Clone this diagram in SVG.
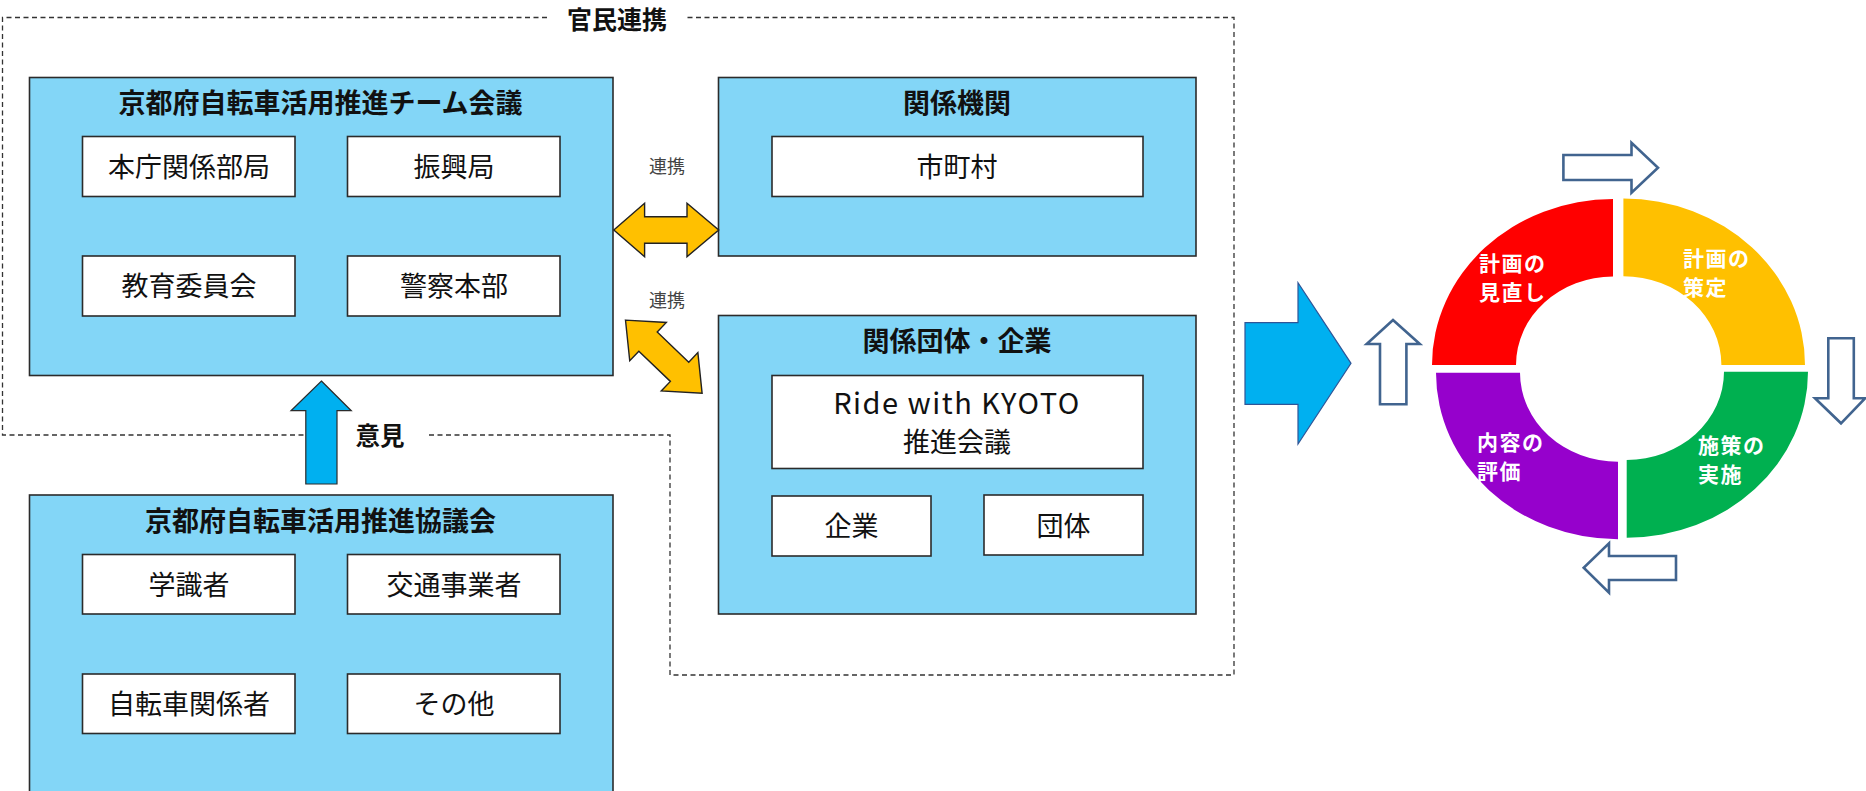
<svg xmlns="http://www.w3.org/2000/svg" width="1866" height="791" viewBox="0 0 1866 791">
<style>
text{font-family:"Noto Sans CJK JP","Noto Sans",sans-serif;fill:#111}
.panel{fill:#83D6F7;stroke:#2b2b2b;stroke-width:1.6}
.item{fill:#fff;stroke:#2b2b2b;stroke-width:1.6}
.title{font-size:27px;font-weight:bold;text-anchor:middle}
.lbl{font-size:27px;text-anchor:middle}
.dash{fill:none;stroke:#333;stroke-width:1.3;stroke-dasharray:5,3.5}
.yarrow{fill:#FFC000;stroke:#222;stroke-width:1.4}
.barrow{fill:#00B0F0;stroke:#2b2b2b;stroke-width:1.2}
.harrow{fill:#fff;stroke:#41648F;stroke-width:2.6}
.ring{font-size:21px;font-weight:bold;fill:#fff;letter-spacing:1.5px}
.small{font-size:18px;fill:#444;text-anchor:middle}
</style>

<g id="frame">
<path class="dash" d="M547,17.5 H2.5 V435 H306"/>
<path class="dash" d="M429,435 H670 V675 H1234 V17.5 H685"/>
<text x="617" y="29" style="font-size:25px;font-weight:bold;text-anchor:middle">官民連携</text>
</g>

<g id="team">
<rect class="panel" x="29.5" y="77.5" width="583.5" height="298"/>
<text class="title" x="320.5" y="113">京都府自転車活用推進チーム会議</text>
<rect class="item" x="82.5" y="136.5" width="212.5" height="60"/>
<text class="lbl" x="189" y="177">本庁関係部局</text>
<rect class="item" x="347.5" y="136.5" width="212.5" height="60"/>
<text class="lbl" x="454" y="177">振興局</text>
<rect class="item" x="82.5" y="256" width="212.5" height="60"/>
<text class="lbl" x="189" y="296">教育委員会</text>
<rect class="item" x="347.5" y="256" width="212.5" height="60"/>
<text class="lbl" x="454" y="296">警察本部</text>
</g>

<g id="kankei">
<rect class="panel" x="718.5" y="77.5" width="477.5" height="178.5"/>
<text class="title" x="957" y="113">関係機関</text>
<rect class="item" x="772" y="136.5" width="371" height="60"/>
<text class="lbl" x="957" y="177">市町村</text>
</g>

<g id="dantai">
<rect class="panel" x="718.5" y="315.5" width="477.5" height="298.5"/>
<text class="title" x="957" y="351">関係団体・企業</text>
<rect class="item" x="772" y="375.5" width="371" height="93"/>
<text x="957" y="414" style="font-size:29px;letter-spacing:1.5px;text-anchor:middle">Ride with KYOTO</text>
<text class="lbl" x="957" y="452">推進会議</text>
<rect class="item" x="772" y="496" width="159" height="60"/>
<text class="lbl" x="851.5" y="536">企業</text>
<rect class="item" x="984" y="495" width="159" height="60"/>
<text class="lbl" x="1063.5" y="536">団体</text>
</g>

<g id="kyogikai">
<rect class="panel" x="29.5" y="495" width="583.5" height="310"/>
<text class="title" x="320.5" y="531">京都府自転車活用推進協議会</text>
<rect class="item" x="82.5" y="554.5" width="212.5" height="59.5"/>
<text class="lbl" x="189" y="595">学識者</text>
<rect class="item" x="347.5" y="554.5" width="212.5" height="59.5"/>
<text class="lbl" x="454" y="595">交通事業者</text>
<rect class="item" x="82.5" y="674" width="212.5" height="59.5"/>
<text class="lbl" x="189" y="714">自転車関係者</text>
<rect class="item" x="347.5" y="674" width="212.5" height="59.5"/>
<text class="lbl" x="454" y="714">その他</text>
</g>

<g id="connectors">
<polygon class="yarrow" points="613.8,230 644.6,203.3 644.6,216.7 687,216.7 687,203.3 718.7,230 687,256.7 687,243.3 644.6,243.3 644.6,256.7"/>
<text class="small" x="667" y="173">連携</text>
<g transform="translate(663.8,356.7) rotate(43.7)">
<polygon class="yarrow" points="-53,0 -21.8,-26.5 -21.8,-13.3 21.8,-13.3 21.8,-26.5 53,0 21.8,26.5 21.8,13.3 -21.8,13.3 -21.8,26.5"/>
</g>
<text class="small" x="667" y="307">連携</text>
<polygon class="barrow" points="321.4,381 351.3,410.7 337,410.7 337,484 305.8,484 305.8,410.7 291,410.7"/>
<text x="380" y="445" style="font-size:24.5px;font-weight:bold;text-anchor:middle">意見</text>
<polygon points="1245,322.7 1298,322.7 1298,282.7 1351,363.3 1298,444 1298,404.3 1245,404.3" style="fill:#00B0F0;stroke:#2F5597;stroke-width:1.2"/>
</g>

<g id="cycle">
<path d="M1432,365 A181 166 0 0 1 1613,199 V276.5 A97 88.5 0 0 0 1516,365 Z" fill="#FF0000"/>
<path d="M1623.4,198.5 A181.6 166.5 0 0 1 1805,365 H1721.4 A98 88.7 0 0 0 1623.4,276.3 Z" fill="#FFC000"/>
<path d="M1808,371.7 A181.3 166 0 0 1 1626.7,537.7 V460 A97.3 88.3 0 0 0 1724,371.7 Z" fill="#00B050"/>
<path d="M1618,539.3 A182 166.6 0 0 1 1436,372.7 H1520 A98 89 0 0 0 1618,461.7 Z" fill="#9601CC"/>
<text class="ring" x="1479" y="271">計画の</text>
<text class="ring" x="1479" y="300">見直し</text>
<text class="ring" x="1683" y="266">計画の</text>
<text class="ring" x="1683" y="295">策定</text>
<text class="ring" x="1698" y="453">施策の</text>
<text class="ring" x="1698" y="482">実施</text>
<text class="ring" x="1477" y="450">内容の</text>
<text class="ring" x="1477" y="479">評価</text>
<polygon class="harrow" points="1563.4,155 1631.5,155 1631.5,142.7 1658,167.7 1631.5,192.7 1631.5,180 1563.4,180"/>
<polygon class="harrow" points="1828.3,338.3 1853.8,338.3 1853.8,398.3 1865,398.3 1841,423.3 1815,398.3 1828.3,398.3"/>
<polygon class="harrow" points="1676,556 1609,556 1609,543.3 1583.7,567.7 1609,592.7 1609,580 1676,580"/>
<polygon class="harrow" points="1393,320 1419.8,344 1406.4,344 1406.4,404.3 1380,404.3 1380,344 1366.7,344"/>
</g>
</svg>
